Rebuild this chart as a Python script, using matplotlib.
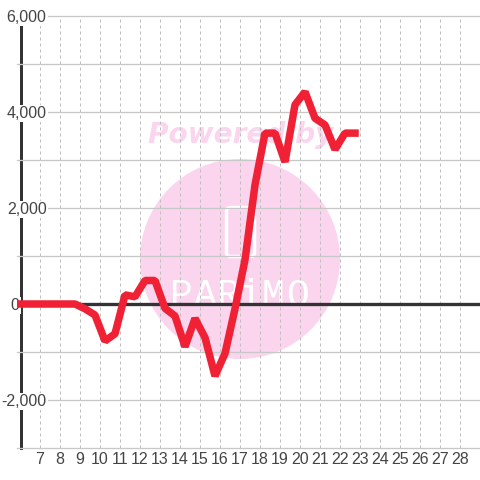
import matplotlib
matplotlib.use("Agg")
import matplotlib.pyplot as plt
from matplotlib.patches import Circle, FancyBboxPatch
from matplotlib.ticker import FixedLocator
from matplotlib.transforms import Affine2D

hours = [5.75 + 0.5 * i for i in range(35)]
values = [0, 0, 0, 0, 0, 0, 0, -100, -230, -770, -620, 190, 150, 490, 490, -90,
          -250, -890, -300, -700, -1500, -1030, -100, 920, 2480, 3560, 3560,
          2960, 4150, 4420, 3870, 3730, 3220, 3560, 3560]
x_ticks = list(range(7, 29))
y_major = [-2000, 0, 2000, 4000, 6000]
y_labels = ["-2,000", "0", "2,000", "4,000", "6,000"]
y_minor = [-3000, -1000, 1000, 3000, 5000]
logo_letters = ["P", "A", "R", "i", "M", "O"]

GRID = "#c8c8c8"
VGRID = "#bebebe"
TEXT = "#444444"
DARK = "#333333"
PINK = "#fbd5ee"
RED = "#f02035"
PX = 72 / 100

plt.rcParams["font.family"] = ["Liberation Sans", "DejaVu Sans"]
fig = plt.figure(figsize=(4.8, 4.8), dpi=100, facecolor="white")
ax = fig.add_axes([17 / 480, 32 / 480, 463 / 480, 432 / 480])
ax.set_xlim(5.85, 29)
ax.set_ylim(-3000, 6000)

px = Affine2D().scale(1, -1).translate(0, 480)

# watermark
ax.add_patch(Circle((240, 259), 100, transform=px, facecolor=PINK, edgecolor="none",
                    clip_on=False, zorder=0.5))
ax.text(148, 143, "Powered by", transform=px, family="DejaVu Sans", fontweight="bold",
        fontstyle="italic", fontsize=28 * PX, color=PINK, ha="left", va="baseline", zorder=0.6)
ax.add_patch(FancyBboxPatch((229, 210), 23, 44, boxstyle="round,pad=2.5,rounding_size=4",
                            transform=px, facecolor="none", edgecolor="white", linewidth=3.5 * PX,
                            zorder=0.7, clip_on=False))
for cx, letter in zip([181, 205, 228, 250, 273, 298], logo_letters):
    ax.text(cx, 306, letter, transform=px, family="Liberation Mono", fontsize=38 * PX,
            color="white", ha="center", va="baseline", zorder=0.7)

# axes and grid
for name in ("top", "right", "bottom"):
    ax.spines[name].set_visible(False)
ax.spines["left"].set_position(("data", 6.025))
ax.spines["left"].set_linewidth(3 * PX)
ax.spines["left"].set_color(DARK)

ax.set_xticks(x_ticks)
ax.set_xticklabels([str(v) for v in x_ticks])
ax.set_yticks(y_major)
ax.set_yticklabels(y_labels)
ax.yaxis.set_minor_locator(FixedLocator(y_minor))

ax.xaxis.grid(True, color=VGRID, linewidth=1 * PX, linestyle=(0, (3, 3)))
ax.yaxis.grid(True, which="both", color=GRID, linewidth=1.3 * PX)
ax.tick_params(axis="both", which="both", length=0)
ax.tick_params(axis="x", labelsize=16 * PX, labelcolor=TEXT, pad=4 * PX)
ax.tick_params(axis="y", labelsize=16 * PX, labelcolor=TEXT)
for tick, lab in zip(ax.yaxis.get_major_ticks(), y_labels):
    tick.set_pad((-26 if lab != "0" else 1) * PX)
    tick.label1.set_bbox(dict(facecolor="white", edgecolor="none", pad=1))
for line in ax.yaxis.get_gridlines():
    line.set_clip_on(False)
for tick in ax.yaxis.get_minor_ticks():
    tick.gridline.set_clip_on(False)
ax.set_axisbelow(False)
ax.patch.set_alpha(0)

ax.axhline(0, color=DARK, linewidth=3.3 * PX, zorder=3)
ax.plot(hours, values, color=RED, linewidth=7.5 * PX, solid_joinstyle="bevel",
        solid_capstyle="projecting", zorder=4)

fig.savefig("out.png", dpi=100, facecolor="white")
